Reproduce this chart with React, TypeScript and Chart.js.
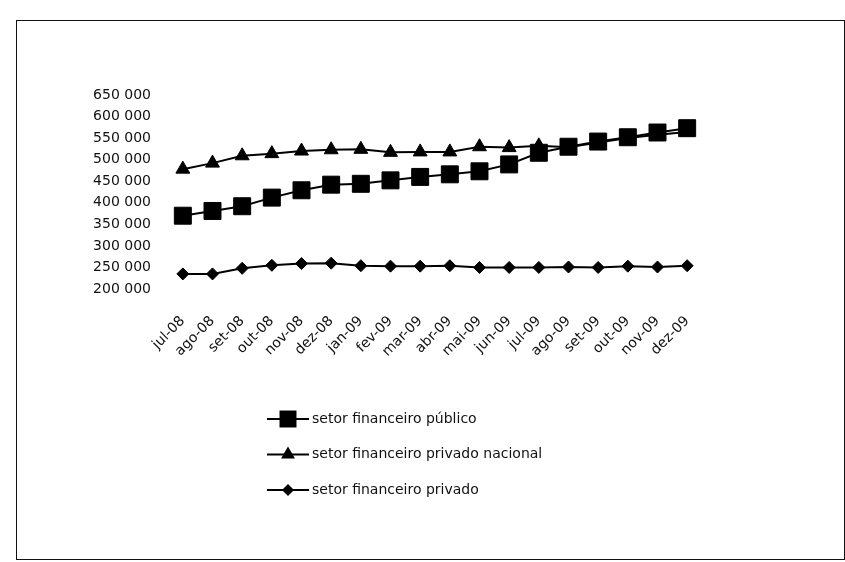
import React, { useEffect, useRef } from "react";
import { Chart, registerables } from "chart.js";

Chart.register(...registerables);

const categories = [
  "jul-08", "ago-08", "set-08", "out-08", "nov-08", "dez-08",
  "jan-09", "fev-09", "mar-09", "abr-09", "mai-09", "jun-09",
  "jul-09", "ago-09", "set-09", "out-09", "nov-09", "dez-09",
];

const seriesNames = [
  "setor financeiro público",
  "setor financeiro privado nacional",
  "setor financeiro privado",
];

const publico = [
  370000, 381000, 392000, 412000, 429000, 442000, 444000, 452000, 460000,
  466000, 473000, 489000, 516000, 530000, 542000, 552000, 563000, 573000,
];

const privadoNacional = [
  478000, 492000, 509000, 514000, 520000, 523000, 524000, 517000, 518000,
  518000, 530000, 528000, 532000, 529000, 540000, 550000, 558000, 564000,
];

const privado = [
  235000, 235000, 248000, 255000, 259000, 260000, 254000, 253000, 253000,
  254000, 250000, 250000, 250000, 251000, 250000, 253000, 251000, 254000,
];

const yMin = 200000;
const yMax = 650000;
const yStep = 50000;

const FONT = "'DejaVu Sans', sans-serif";

function fmt(v: number): string {
  const s = Math.round(v).toString();
  return s.replace(/\B(?=(\d{3})+(?!\d))/g, " ");
}

function drawMarker(ctx: CanvasRenderingContext2D, style: string, r: number, x: number, y: number) {
  ctx.beginPath();
  if (style === "rect") {
    const s = Math.SQRT1_2 * r;
    ctx.rect(x - s, y - s, 2 * s, 2 * s);
  } else if (style === "triangle") {
    ctx.moveTo(x, y - r);
    ctx.lineTo(x + r * Math.sin(Math.PI / 3), y + r / 2);
    ctx.lineTo(x - r * Math.sin(Math.PI / 3), y + r / 2);
    ctx.closePath();
  } else {
    ctx.moveTo(x, y - r);
    ctx.lineTo(x + r, y);
    ctx.lineTo(x, y + r);
    ctx.lineTo(x - r, y);
    ctx.closePath();
  }
  ctx.fill();
}

const stackedLegend = {
  id: "stackedLegend",
  afterDraw(chart: any, _args: any, opts: any) {
    const ctx: CanvasRenderingContext2D = chart.ctx;
    chart.data.datasets.forEach((ds: any, i: number) => {
      const cx = opts.x;
      const y = opts.y + i * opts.gap;
      ctx.save();
      ctx.strokeStyle = ds.borderColor;
      ctx.lineWidth = ds.borderWidth;
      ctx.beginPath();
      ctx.moveTo(cx - 21, y);
      ctx.lineTo(cx + 21, y);
      ctx.stroke();
      ctx.fillStyle = ds.pointBackgroundColor;
      drawMarker(ctx, ds.pointStyle, ds.pointRadius, cx, y);
      ctx.fillStyle = "#111";
      ctx.font = `14px ${FONT}`;
      ctx.textBaseline = "middle";
      ctx.textAlign = "left";
      ctx.fillText(ds.label, cx + 24, y);
      ctx.restore();
    });
  },
};

export default function App() {
  const ref = useRef<HTMLCanvasElement | null>(null);

  useEffect(() => {
    if (!ref.current) return;
    const mk = (label: string, data: number[], pointStyle: string, r: number) => ({
      label,
      data,
      borderColor: "#000",
      backgroundColor: "#000",
      pointBackgroundColor: "#000",
      pointBorderColor: "#000",
      borderWidth: 2,
      pointStyle,
      pointRadius: r,
      pointBorderWidth: 1,
      tension: 0,
    });
    const chart = new Chart(ref.current, {
      type: "line",
      data: {
        labels: categories,
        datasets: [
          mk(seriesNames[0], publico, "rect", 12),
          mk(seriesNames[1], privadoNacional, "triangle", 8),
          mk(seriesNames[2], privado, "rectRot", 6),
        ],
      },
      plugins: [stackedLegend],
      options: {
        responsive: false,
        animation: false,
        events: [],
        layout: { padding: { left: 0, top: 95, right: 143, bottom: 123 } },
        plugins: {
          legend: { display: false },
          tooltip: { enabled: false },
          stackedLegend: { x: 288, y: 419, gap: 35.5 },
        } as any,
        scales: {
          x: {
            offset: true,
            border: { display: false },
            grid: { display: false, drawTicks: false },
            ticks: {
              autoSkip: false,
              minRotation: 45,
              maxRotation: 45,
              padding: 24,
              color: "#111",
              font: { family: FONT, size: 14 },
            },
            afterFit: (s: any) => {
              s.height = 150;
            },
          },
          y: {
            min: yMin,
            max: yMax,
            border: { display: false },
            grid: { display: false, drawTicks: false },
            ticks: {
              stepSize: yStep,
              padding: 17,
              color: "#111",
              font: { family: FONT, size: 14 },
              callback: (v: any) => fmt(Number(v)),
            },
            afterFit: (s: any) => {
              s.width = 168;
            },
          },
        },
      },
    });
    return () => chart.destroy();
  }, []);

  return (
    <div style={{ position: "absolute", left: 0, top: 0, width: 845, height: 562, background: "#fff" }}>
      <div
        style={{
          position: "absolute",
          left: 16,
          top: 20,
          width: 827,
          height: 538,
          border: "1.5px solid #111",
        }}
      />
      <canvas ref={ref} width={845} height={562} style={{ position: "absolute", left: 0, top: 0 }} />
    </div>
  );
}
